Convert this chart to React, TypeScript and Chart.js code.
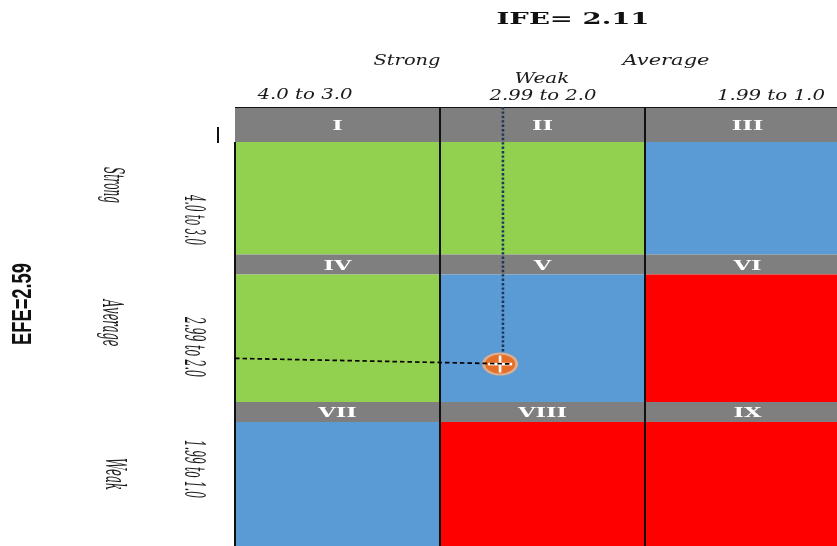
import React, { useEffect, useRef } from 'react';
import { Chart, registerables } from 'chart.js';

Chart.register(...registerables);

// ---------------- data ----------------
const ifeEdges = [4.0, 3.0, 2.0, 1.0]; // IFE score edges, left -> right
const efeEdges = [4.0, 3.0, 2.0, 1.0]; // EFE score edges, top -> bottom
const cellNumerals = ['I', 'II', 'III', 'IV', 'V', 'VI', 'VII', 'VIII', 'IX'];
const cellZones = ['grow', 'grow', 'hold', 'grow', 'hold', 'harvest', 'hold', 'harvest', 'harvest'];
const ifeStrengthLabels = ['Strong', 'Weak', 'Average'];
const ifeRangeLabels = ['4.0 to 3.0', '2.99 to 2.0', '1.99 to 1.0'];
const efeStrengthLabels = ['Strong', 'Average', 'Weak'];
const efeRangeLabels = ['4.0 to 3.0', '2.99 to 2.0', '1.99 to 1.0'];
const ifeTitle = 'IFE= 2.11';
const efeTitle = 'EFE=2.59';
const positionPoint = [{ x: 2.707, y: 2.258 }];
const verticalGuide = [{ x: 2.693, y: 4.0 }, { x: 2.693, y: 2.34 }];
const horizontalGuide = [{ x: 4.0, y: 2.296 }, { x: 2.649, y: 2.258 }];

const zoneColors: Record<string, string> = { grow: '#92D050', hold: '#5B9BD5', harvest: '#FF0000' };

function drawText(
  ctx: CanvasRenderingContext2D,
  text: string,
  x: number,
  y: number,
  font: string,
  len: number,
  angle: number,
  thick: number,
  baseline: CanvasTextBaseline,
  color = '#1a1a1a'
) {
  ctx.save();
  ctx.font = font;
  ctx.fillStyle = color;
  ctx.textAlign = 'center';
  ctx.textBaseline = baseline;
  const w = ctx.measureText(text).width;
  ctx.translate(x, y);
  ctx.rotate(angle);
  ctx.scale(len / w, thick);
  ctx.fillText(text, 0, 0);
  ctx.restore();
}

function makeMarker(): HTMLCanvasElement {
  const c = document.createElement('canvas');
  c.width = 40;
  c.height = 26;
  const g = c.getContext('2d')!;
  g.fillStyle = 'rgba(244,177,131,0.85)';
  g.beginPath();
  g.ellipse(20, 13, 18, 11.5, 0, 0, Math.PI * 2);
  g.fill();
  g.fillStyle = '#E56F28';
  g.beginPath();
  g.ellipse(20, 13, 15, 9.5, 0, 0, Math.PI * 2);
  g.fill();
  g.fillStyle = '#FFFFFF';
  g.fillRect(8, 11.8, 24, 2.6);
  g.fillRect(18.7, 4.5, 2.6, 17);
  return c;
}

const matrixPlugin = {
  id: 'matrixPlugin',
  beforeDatasetsDraw(chart: any) {
    const ctx: CanvasRenderingContext2D = chart.ctx;
    const xs = chart.scales.x;
    const ys = chart.scales.y;
    for (let r = 0; r < 3; r++) {
      for (let c = 0; c < 3; c++) {
        const i = r * 3 + c;
        const x0 = xs.getPixelForValue(ifeEdges[c]);
        const x1 = xs.getPixelForValue(ifeEdges[c + 1]);
        const y0 = ys.getPixelForValue(efeEdges[r]);
        const y1 = ys.getPixelForValue(efeEdges[r + 1]);
        const hb = r === 0 ? 35 : 20;
        ctx.fillStyle = '#7F7F7F';
        ctx.fillRect(x0, y0, x1 - x0, hb);
        ctx.fillStyle = zoneColors[cellZones[i]];
        ctx.fillRect(x0, y0 + hb, x1 - x0, y1 - y0 - hb);
        ctx.save();
        ctx.font = 'bold 12.5px "DejaVu Serif"';
        ctx.fillStyle = '#FFFFFF';
        ctx.textAlign = 'center';
        ctx.textBaseline = 'middle';
        ctx.translate((x0 + x1) / 2, y0 + hb / 2 + 2);
        ctx.scale(1.8, 1);
        ctx.fillText(cellNumerals[i], 0, 0);
        ctx.restore();
      }
    }
    // grid lines
    const top = ys.getPixelForValue(efeEdges[0]);
    const bottom = ys.getPixelForValue(efeEdges[3]);
    const left = xs.getPixelForValue(ifeEdges[0]);
    const right = xs.getPixelForValue(ifeEdges[3]);
    ctx.save();
    ctx.strokeStyle = '#111111';
    ctx.lineWidth = 1;
    ctx.beginPath();
    ctx.moveTo(left, top + 0.5);
    ctx.lineTo(right, top + 0.5);
    ctx.stroke();
    ctx.lineWidth = 2;
    ctx.beginPath();
    ctx.moveTo(left, top + 35);
    ctx.lineTo(left, bottom);
    for (let c = 1; c < 3; c++) {
      const x = xs.getPixelForValue(ifeEdges[c]);
      ctx.moveTo(x, top);
      ctx.lineTo(x, bottom);
    }
    ctx.stroke();
    // small stray tick
    ctx.beginPath();
    ctx.moveTo(218, 127);
    ctx.lineTo(218, 143);
    ctx.stroke();
    ctx.restore();
  },
  afterDraw(chart: any) {
    const ctx: CanvasRenderingContext2D = chart.ctx;
    drawText(ctx, ifeTitle, 573, 24, 'bold 16px "DejaVu Serif"', 153, 0, 1, 'alphabetic', '#111');
    const topStrengthPos = [
      { cx: 407, by: 65, len: 67 },
      { cx: 542, by: 83, len: 55 },
      { cx: 666, by: 65, len: 87 },
    ];
    const topRangePos = [
      { cx: 305, by: 99, len: 95 },
      { cx: 543, by: 100, len: 107 },
      { cx: 771, by: 100, len: 108 },
    ];
    ifeStrengthLabels.forEach((t, i) =>
      drawText(ctx, t, topStrengthPos[i].cx, topStrengthPos[i].by, 'italic 14px "DejaVu Serif"', topStrengthPos[i].len, 0, 1, 'alphabetic')
    );
    ifeRangeLabels.forEach((t, i) =>
      drawText(ctx, t, topRangePos[i].cx, topRangePos[i].by, 'italic 14px "DejaVu Serif"', topRangePos[i].len, 0, 1, 'alphabetic')
    );
    const leftStrengthPos = [
      { cx: 111, cy: 185, len: 36 },
      { cx: 110, cy: 323, len: 47 },
      { cx: 113, cy: 474, len: 32 },
    ];
    const leftRangePos = [
      { cx: 192, cy: 220, len: 50 },
      { cx: 192, cy: 347, len: 60 },
      { cx: 192, cy: 469, len: 58 },
    ];
    efeStrengthLabels.forEach((t, i) =>
      drawText(ctx, t, leftStrengthPos[i].cx, leftStrengthPos[i].cy, 'italic 14px "DejaVu Serif"', leftStrengthPos[i].len, Math.PI / 2, 2, 'middle')
    );
    efeRangeLabels.forEach((t, i) =>
      drawText(ctx, t, leftRangePos[i].cx, leftRangePos[i].cy, 'italic 14px "DejaVu Serif"', leftRangePos[i].len, Math.PI / 2, 2, 'middle')
    );
    drawText(ctx, efeTitle, 23, 304, 'bold 14px "Liberation Sans"', 82, -Math.PI / 2, 2, 'middle', '#111');
  },
};

export default function App() {
  const ref = useRef<HTMLCanvasElement | null>(null);
  useEffect(() => {
    if (!ref.current) return;
    const marker = makeMarker();
    const chart = new Chart(ref.current, {
      type: 'scatter',
      data: {
        datasets: [
          {
            label: 'IFE/EFE guide (horizontal)',
            data: horizontalGuide,
            showLine: true,
            borderColor: '#000000',
            borderWidth: 1.7,
            borderDash: [4.5, 3],
            pointRadius: 0,
            order: 0,
            clip: false,
          } as any,
          {
            label: 'Position',
            data: positionPoint,
            pointStyle: marker,
            order: 1,
            clip: false,
          } as any,
          {
            label: 'IFE/EFE guide (vertical)',
            data: verticalGuide,
            showLine: true,
            borderColor: '#1E3657',
            borderWidth: 2.6,
            borderDash: [2.4, 2],
            pointRadius: 0,
            order: 2,
            clip: false,
          } as any,
        ],
      },
      options: {
        responsive: false,
        animation: false,
        events: [],
        layout: { padding: { left: 235, top: 107, right: 10, bottom: 10.5 } },
        scales: {
          x: { type: 'linear', min: 1, max: 4, reverse: true, display: false },
          y: { type: 'linear', min: 1, max: 4, display: false },
        },
        plugins: {
          legend: { display: false },
          tooltip: { enabled: false },
          title: { display: false },
        },
      },
      plugins: [matrixPlugin],
    });
    return () => chart.destroy();
  }, []);
  return (
    <div style={{ position: 'fixed', left: 0, top: 0, width: 837, height: 546, overflow: 'hidden', background: '#fff' }}>
      <canvas ref={ref} width={860} height={560} style={{ display: 'block' }} />
    </div>
  );
}
